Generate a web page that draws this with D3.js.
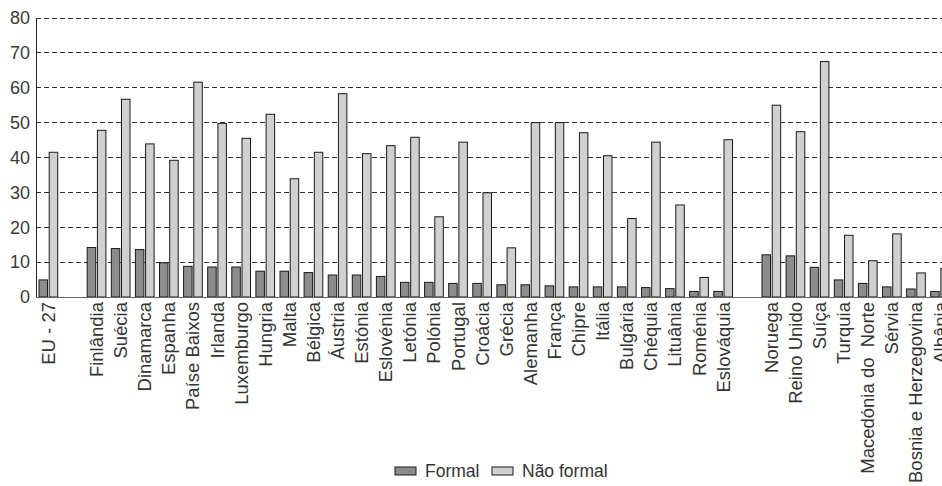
<!DOCTYPE html>
<html>
<head>
<meta charset="utf-8">
<script src="https://cdn.jsdelivr.net/npm/d3@7"></script>
<style>
  html, body { margin: 0; padding: 0; background: #fff; }
  svg { display: block; font-family: "Liberation Sans", Arial, sans-serif; }
</style>
</head>
<body>
<svg id="chart" width="942" height="486"></svg>
<script>
// ---- data ----
const euLabel = ["EU - 27"];
const memberStates = ["Finlândia", "Suécia", "Dinamarca", "Espanha", "Paíse Baixos", "Irlanda", "Luxemburgo",
  "Hungria", "Malta", "Bélgica", "Áustria", "Estónia", "Eslovénia", "Letónia", "Polónia", "Portugal",
  "Croácia", "Grécia", "Alemanha", "França", "Chipre", "Itália", "Bulgária", "Chéquia", "Lituânia",
  "Roménia", "Eslováquia"];
const otherCountries = ["Noruega", "Reino Unido", "Suíça", "Turquia", "Macedónia do  Norte", "Sérvia",
  "Bosnia e Herzegovina", "Albânia"];
const seriesNames = ["Formal", "Não formal"];
const formal = [4.9,
  14.2, 13.9, 13.6, 9.8, 8.8, 8.6, 8.6, 7.4, 7.4, 7.0, 6.3, 6.3, 5.9, 4.2, 4.2, 3.9, 3.9, 3.5, 3.5, 3.2,
  2.9, 2.9, 2.9, 2.7, 2.4, 1.6, 1.6,
  12.1, 11.8, 8.5, 4.9, 3.9, 2.9, 2.3, 1.6];
const naoFormal = [41.5,
  47.8, 56.7, 43.9, 39.2, 61.6, 49.8, 45.5, 52.4, 33.9, 41.5, 58.3, 41.1, 43.4, 45.8, 23.0, 44.4,
  29.9, 14.1, 50.0, 50.0, 47.1, 40.5, 22.5, 44.4, 26.4, 5.6, 45.1,
  55.0, 47.4, 67.5, 17.7, 10.4, 18.1, 6.9, 8.2];
const yTicks = [0, 10, 20, 30, 40, 50, 60, 70, 80];

// ---- layout: slots with empty spacer slots between groups ----
const groups = [euLabel, memberStates, otherCountries];
const rows = [];
let slot = 0, k = 0;
groups.forEach((g, gi) => {
  g.forEach(name => {
    rows.push({ name, slot, values: [formal[k], naoFormal[k]] });
    slot++; k++;
  });
  slot++; // spacer
});
const nSlots = slot;

const svg = d3.select("#chart");
const step = 24.1;
const x0 = d3.scaleBand().domain(d3.range(nSlots)).range([37, 37 + nSlots * step]).padding(0);
const x1 = d3.scaleBand().domain(seriesNames).range([2, 20.7]).paddingInner(0.167);
const y = d3.scaleLinear().domain([0, 80]).range([297, 18]);
const colors = d3.scaleOrdinal().domain(seriesNames).range(["#8c8c8c", "#d0d0d0"]);

// grid
svg.append("g")
  .selectAll("line")
  .data(yTicks.filter(t => t > 0))
  .join("line")
  .attr("x1", 36).attr("x2", 942)
  .attr("y1", d => y(d)).attr("y2", d => y(d))
  .attr("stroke", "#333").attr("stroke-width", 1)
  .attr("stroke-dasharray", "5,3")
  .attr("shape-rendering", "crispEdges");

// y axis
const yAxis = svg.append("g")
  .attr("transform", "translate(36,0)")
  .call(d3.axisLeft(y).tickValues(yTicks).tickSize(0).tickPadding(6));
yAxis.select(".domain").attr("stroke", "#222").attr("shape-rendering", "crispEdges");
yAxis.selectAll("text").attr("font-size", 18).attr("fill", "#3a3a3a")
  .attr("font-family", "'Liberation Sans', Arial, sans-serif");

// bars
const g = svg.append("g").selectAll("g")
  .data(rows)
  .join("g")
  .attr("transform", d => `translate(${x0(d.slot)},0)`);
g.selectAll("rect")
  .data(d => d.values.map((v, i) => ({ key: seriesNames[i], v })))
  .join("rect")
  .attr("x", d => x1(d.key))
  .attr("width", x1.bandwidth())
  .attr("y", d => y(d.v))
  .attr("height", d => y(0) - y(d.v))
  .attr("fill", d => colors(d.key))
  .attr("stroke", "#1a1a1a")
  .attr("stroke-width", 1);

// baseline
svg.append("line")
  .attr("x1", 36).attr("x2", 942)
  .attr("y1", y(0)).attr("y2", y(0))
  .attr("stroke", "#666").attr("stroke-width", 1)
  .attr("shape-rendering", "crispEdges");

// category labels
svg.append("g").selectAll("text")
  .data(rows)
  .join("text")
  .attr("transform", d => `translate(${x0(d.slot) + 2 + 18.7 / 2},302) rotate(-90)`)
  .attr("text-anchor", "end")
  .attr("dy", "0.35em")
  .attr("font-size", 18.5)
  .attr("fill", "#333")
  .style("white-space", "pre")
  .text(d => d.name);

// legend
const legend = svg.append("g");
const legendItems = [{ key: "Formal", x: 395 }, { key: "Não formal", x: 492 }];
legendItems.forEach(it => {
  legend.append("rect")
    .attr("x", it.x).attr("y", 467).attr("width", 21).attr("height", 8)
    .attr("fill", colors(it.key)).attr("stroke", "#1a1a1a").attr("stroke-width", 1);
  legend.append("text")
    .attr("x", it.x + 30).attr("y", 471).attr("dy", "0.35em")
    .attr("font-size", 17.5).attr("fill", "#333")
    .text(it.key);
});
</script>
</body>
</html>
